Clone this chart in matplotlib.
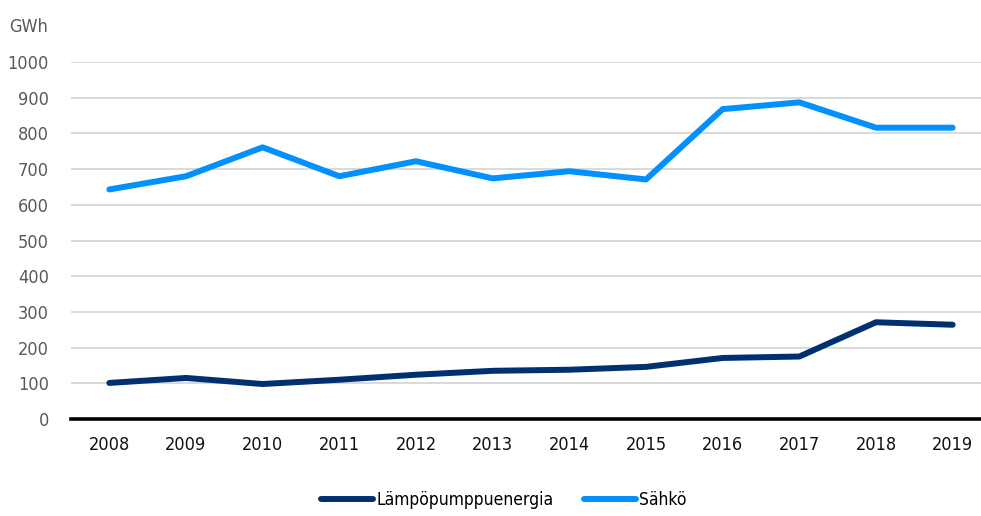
import matplotlib
matplotlib.use('Agg')
import matplotlib.pyplot as plt

plt.rcParams['font.family'] = ['DejaVu Sans']
plt.rcParams['font.stretch'] = 'condensed'

years = ['2008', '2009', '2010', '2011', '2012', '2013', '2014', '2015', '2016', '2017', '2018', '2019']
lampo = [101, 115, 98, 110, 124, 135, 138, 146, 171, 175, 271, 264]
sahko = [643, 680, 761, 680, 722, 674, 694, 671, 868, 887, 816, 816]
y_ticks = [0, 100, 200, 300, 400, 500, 600, 700, 800, 900, 1000]

fig = plt.figure(figsize=(9.81, 5.16), dpi=100)
# axes right edge runs slightly past the figure like the reference
ax = fig.add_axes([71 / 981, (516 - 419) / 516, (991 - 71) / 981, (419 - 62) / 516])

x = range(len(years))
ax.plot(x, lampo, color='#003070', lw=4.3, solid_capstyle='round', label='Lämpöpumppuenergia', zorder=3)
ax.plot(x, sahko, color='#0091ff', lw=4.3, solid_capstyle='round', label='Sähkö', zorder=3)

ax.set_xlim(-0.5, len(years) - 0.5)
ax.set_ylim(0, 1000)
ax.set_yticks(y_ticks)
ax.set_yticklabels([str(v) for v in y_ticks], color='#595959', fontsize=13)
ax.set_xticks(list(x))
ax.set_xticklabels(years, fontsize=13, color='#111111')
ax.tick_params(length=0)
ax.tick_params(axis='y', pad=16)
ax.tick_params(axis='x', pad=12)

ax.grid(axis='y', color='#d9d9d9', lw=1.4, zorder=0)
ax.axhline(0, color='black', lw=2.6, zorder=4, clip_on=False)
for s in ax.spines.values():
    s.set_visible(False)

fig.text(48 / 981, 1 - 27 / 516, 'GWh', ha='right', va='center', color='#595959', fontsize=13)

ax.legend(loc='center', bbox_to_anchor=(504 / 981, 1 - 500 / 516), bbox_transform=fig.transFigure,
          ncol=2, frameon=False, fontsize=12.5, handlelength=3.0, handletextpad=0.2, columnspacing=1.7)

fig.savefig('out.png', dpi=100)
